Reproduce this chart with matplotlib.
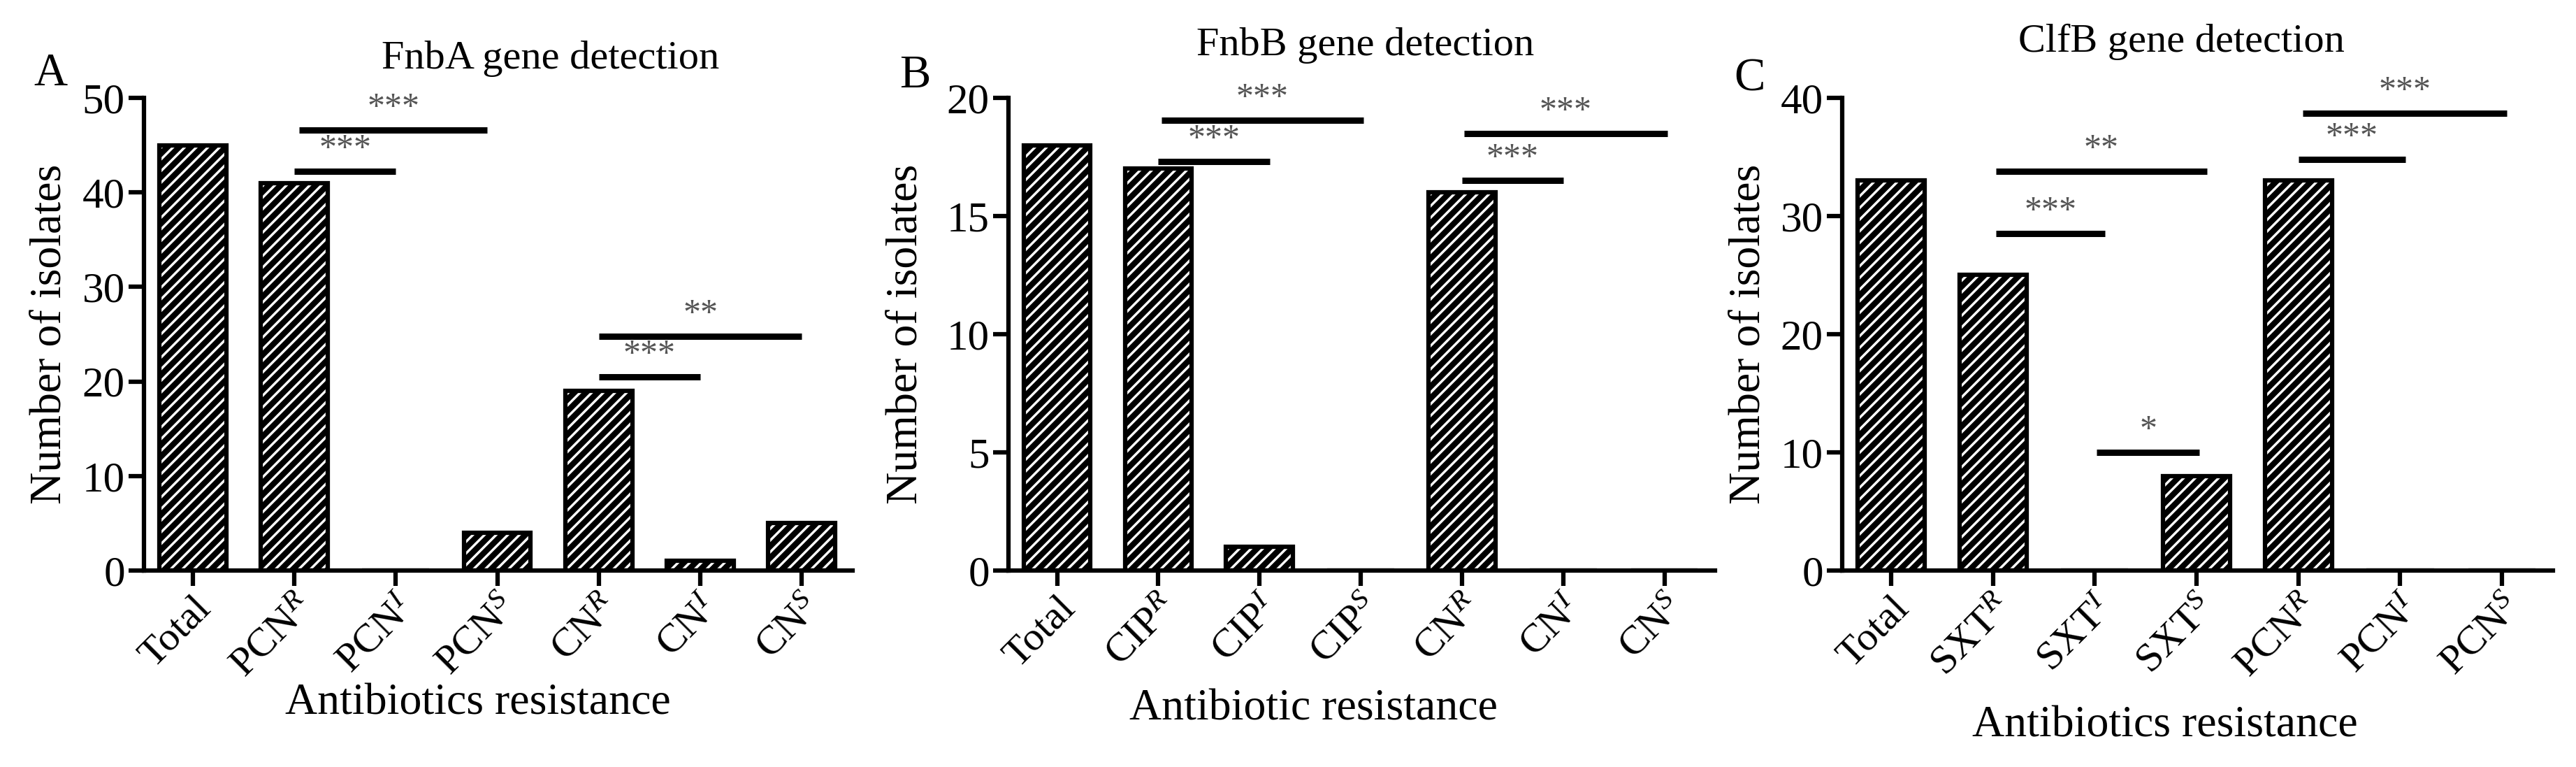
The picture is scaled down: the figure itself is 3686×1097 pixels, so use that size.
import matplotlib
matplotlib.use('Agg')
import matplotlib.pyplot as plt
import numpy as np

plt.rcParams.update({'font.family': 'Liberation Serif', 'mathtext.fontset': 'custom',
                     'mathtext.rm': 'Liberation Serif', 'mathtext.it': 'Liberation Serif:italic',
                     'hatch.linewidth': 6, 'font.size': 44})

W, H = 3686, 1097

# panel data
labels_a = ['Total', 'PCN$^{R}$', 'PCN$^{I}$', 'PCN$^{S}$', 'CN$^{R}$', 'CN$^{I}$', 'CN$^{S}$']
values_a = [45, 41, 0, 4, 19, 1, 5]
sig_a = [(1.0, 2.0, 42.2, '***'), (1.05, 2.9, 46.6, '***'), (4.0, 5.0, 20.5, '***'), (4.0, 6.0, 24.8, '**')]

labels_b = ['Total', 'CIP$^{R}$', 'CIP$^{I}$', 'CIP$^{S}$', 'CN$^{R}$', 'CN$^{I}$', 'CN$^{S}$']
values_b = [18, 17, 1, 0, 16, 0, 0]
sig_b = [(1.0, 2.1, 17.3, '***'), (1.03, 3.03, 19.05, '***'), (4.0, 5.0, 16.5, '***'), (4.02, 6.03, 18.5, '***')]

labels_c = ['Total', 'SXT$^{R}$', 'SXT$^{I}$', 'SXT$^{S}$', 'PCN$^{R}$', 'PCN$^{I}$', 'PCN$^{S}$']
values_c = [33, 25, 0, 8, 33, 0, 0]
sig_c = [(1.03, 2.1, 28.5, '***'), (1.03, 3.1, 33.8, '**'), (2.02, 3.03, 10.0, '*'),
         (4.0, 5.05, 34.8, '***'), (4.04, 6.05, 38.7, '***')]

panels = [
    dict(letter='A', title='FnbA gene detection', xlabel='Antibiotics resistance', labels=labels_a,
         values=values_a, sig=sig_a, ymax=50, step=10, box=(206, 1220), letter_xy=(72, 105),
         title_xy=(788, 84), xlabel_xy=(684, 1007), ylabel_x=72),
    dict(letter='B', title='FnbB gene detection', xlabel='Antibiotic resistance', labels=labels_b,
         values=values_b, sig=sig_b, ymax=20, step=5, box=(1443, 2454), letter_xy=(1309, 109),
         title_xy=(1954, 65), xlabel_xy=(1880, 1014), ylabel_x=1297),
    dict(letter='C', title='ClfB gene detection', xlabel='Antibiotics resistance', labels=labels_c,
         values=values_c, sig=sig_c, ymax=40, step=10, box=(2636, 3653), letter_xy=(2503, 113),
         title_xy=(3121, 60), xlabel_xy=(3098, 1039), ylabel_x=2503),
]

fig = plt.figure(figsize=(W / 100, H / 100), dpi=100)
top_px, bot_px = 140, 816

for p in panels:
    x0, x1 = p['box']
    ax = fig.add_axes([x0 / W, 1 - bot_px / H, (x1 - x0) / W, (bot_px - top_px) / H])
    x = np.arange(len(p['values']))
    ax.bar(x, p['values'], width=0.66, facecolor='white', edgecolor='black',
           hatch='//', linewidth=4.5)
    for a, b, y, s in p['sig']:
        ax.plot([a, b], [y, y], color='black', lw=6.5, solid_capstyle='butt', clip_on=False)
        ax.text((a + b) / 2, y + p['ymax'] * 0.012, s, ha='center', va='bottom',
                fontsize=36, color='#555555')
    ax.set_xlim(-0.48, 6.5)
    ax.set_ylim(0, p['ymax'])
    ax.set_yticks(np.arange(0, p['ymax'] + 1, p['step']))
    ax.set_xticks(x)
    ax.set_xticklabels(p['labels'], rotation=45, ha='right', rotation_mode='anchor', fontsize=42)
    ax.tick_params(width=4.5, length=16, labelsize=44, colors='black')
    ax.tick_params(axis='x', labelsize=42)
    for s in ['top', 'right']:
        ax.spines[s].set_visible(False)
    for s in ['left', 'bottom']:
        ax.spines[s].set_linewidth(4.5)
    fig.text(p['letter_xy'][0] / W, 1 - p['letter_xy'][1] / H, p['letter'],
             ha='center', va='center', fontsize=48)
    fig.text(p['title_xy'][0] / W, 1 - p['title_xy'][1] / H, p['title'],
             ha='center', va='center', fontsize=42)
    fig.text(p['xlabel_xy'][0] / W, 1 - p['xlabel_xy'][1] / H, p['xlabel'],
             ha='center', va='center', fontsize=46)
    fig.text(p['ylabel_x'] / W, 1 - (top_px + bot_px) / 2 / H, 'Number of isolates',
             ha='center', va='center', rotation=90, fontsize=46)

fig.savefig('out.png', dpi=100)
